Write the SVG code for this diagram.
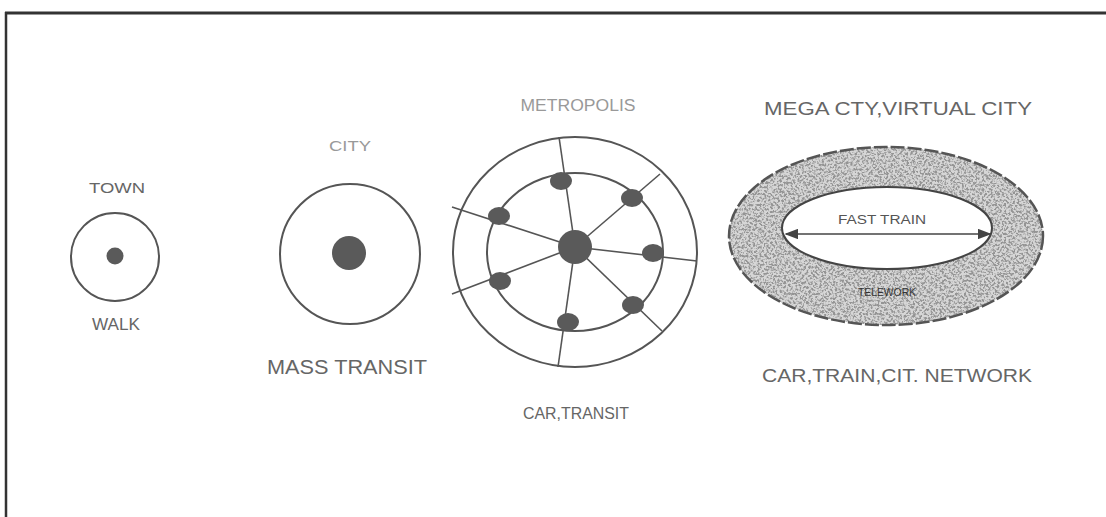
<svg xmlns="http://www.w3.org/2000/svg" width="1106" height="517" viewBox="0 0 1106 517">
<style>
.lbl{font-family:"Liberation Sans",Arial,sans-serif;fill:#666;text-anchor:middle}
.pale{fill:#999}
.ring{fill:none;stroke:#555;stroke-width:2}
.spoke{stroke:#555;stroke-width:1.6;fill:none}
.node{fill:#5a5a5a}
</style>
<defs>
<filter id="grain" x="0" y="0" width="100%" height="100%">
<feTurbulence type="fractalNoise" baseFrequency="0.45" numOctaves="3" seed="7" result="n"/>
<feColorMatrix in="n" type="matrix" values="0 0 0 0 0.3  0 0 0 0 0.3  0 0 0 0 0.3  -5 0 0 0 2.8" result="c"/>
<feComposite in="c" in2="SourceGraphic" operator="in"/>
</filter>
<marker id="ah" viewBox="0 0 10 10" refX="9" refY="5" markerWidth="9" markerHeight="7" orient="auto-start-reverse" markerUnits="strokeWidth" preserveAspectRatio="none">
<path d="M0,0 L10,5 L0,10 z" fill="#444"/>
</marker>
</defs>
<rect width="1106" height="517" fill="#fff"/>
<g id="frame">
<line x1="5" y1="13" x2="1106" y2="13" stroke="#333" stroke-width="3"/>
<line x1="6" y1="12" x2="6" y2="517" stroke="#333" stroke-width="2.5"/>
</g>
<g id="connectors">
<line class="spoke" x1="575" y1="247" x2="559" y2="137"/>
<line class="spoke" x1="575" y1="247" x2="660" y2="174"/>
<line class="spoke" x1="575" y1="247" x2="697" y2="261"/>
<line class="spoke" x1="575" y1="247" x2="662" y2="331"/>
<line class="spoke" x1="575" y1="247" x2="558" y2="367"/>
<line class="spoke" x1="575" y1="247" x2="452" y2="294"/>
<line class="spoke" x1="575" y1="247" x2="452" y2="207"/>
<line x1="786" y1="234" x2="990" y2="234" stroke="#444" stroke-width="1.5" marker-start="url(#ah)" marker-end="url(#ah)"/>
</g>
<g id="town">
<text class="lbl" x="117" y="193" font-size="15" textLength="56" lengthAdjust="spacingAndGlyphs">TOWN</text>
<circle class="ring" cx="115" cy="257" r="44"/>
<circle class="node" cx="115" cy="256" r="8.5"/>
<text class="lbl" x="116" y="330" font-size="16" textLength="48" lengthAdjust="spacingAndGlyphs">WALK</text>
</g>
<g id="city">
<text class="lbl pale" x="350" y="151" font-size="15" textLength="42" lengthAdjust="spacingAndGlyphs">CITY</text>
<circle class="ring" cx="350" cy="254" r="70"/>
<circle class="node" cx="349" cy="253" r="17"/>
<text class="lbl" x="347" y="374" font-size="20" textLength="160" lengthAdjust="spacingAndGlyphs">MASS TRANSIT</text>
</g>
<g id="metropolis">
<text class="lbl pale" x="578" y="111" font-size="16" textLength="115" lengthAdjust="spacingAndGlyphs">METROPOLIS</text>
<ellipse class="ring" cx="575" cy="252" rx="122" ry="115"/>
<ellipse class="ring" cx="575" cy="252" rx="88" ry="79"/>
<circle class="node" cx="575" cy="247" r="17"/>
<ellipse class="node" cx="561" cy="181" rx="11" ry="9"/>
<ellipse class="node" cx="632" cy="198" rx="11" ry="9"/>
<ellipse class="node" cx="653" cy="253" rx="11" ry="9"/>
<ellipse class="node" cx="633" cy="305" rx="11" ry="9"/>
<ellipse class="node" cx="568" cy="322" rx="11" ry="9"/>
<ellipse class="node" cx="500" cy="281" rx="11" ry="9"/>
<ellipse class="node" cx="499" cy="216" rx="11" ry="9"/>
<text class="lbl" x="576" y="419" font-size="17" textLength="106" lengthAdjust="spacingAndGlyphs">CAR,TRANSIT</text>
</g>
<g id="megacity">
<text class="lbl" x="898" y="115" font-size="18" textLength="268" lengthAdjust="spacingAndGlyphs">MEGA CTY,VIRTUAL CITY</text>
<path d="M729,236 a157,89 0 1,0 314,0 a157,89 0 1,0 -314,0 Z M782,228 a105,41 0 1,0 210,0 a105,41 0 1,0 -210,0 Z" fill="#d6d6d6" fill-rule="evenodd"/>
<path d="M729,236 a157,89 0 1,0 314,0 a157,89 0 1,0 -314,0 Z M782,228 a105,41 0 1,0 210,0 a105,41 0 1,0 -210,0 Z" fill="#fff" fill-rule="evenodd" filter="url(#grain)"/>
<ellipse cx="886" cy="236" rx="157" ry="89" fill="none" stroke="#555" stroke-width="2.5" stroke-dasharray="14 3"/>
<ellipse cx="887" cy="228" rx="105" ry="41" fill="none" stroke="#444" stroke-width="2"/>
<text class="lbl" x="882" y="224" font-size="12" textLength="88" lengthAdjust="spacingAndGlyphs" style="fill:#555">FAST TRAIN</text>
<text class="lbl" x="887" y="296" font-size="10" textLength="58" lengthAdjust="spacingAndGlyphs" style="fill:#333">TELEWORK</text>
<text class="lbl" x="897" y="382" font-size="19" textLength="270" lengthAdjust="spacingAndGlyphs">CAR,TRAIN,CIT. NETWORK</text>
</g>
</svg>
